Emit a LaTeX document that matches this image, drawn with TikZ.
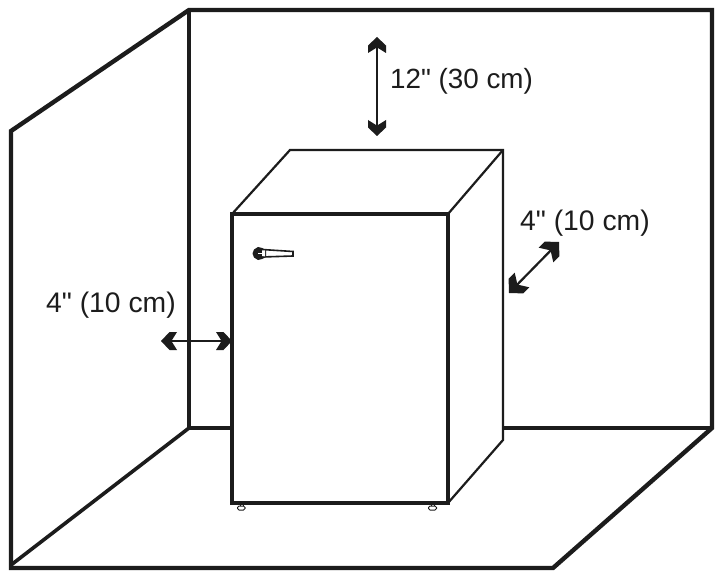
\documentclass[tikz,border=0pt]{standalone}
\usepackage{fontspec}
\newfontfamily\dimfont{Liberation Sans}
\definecolor{ink}{HTML}{1C1C1C}
\tikzset{
  wall/.style={draw=ink,line width=4.4pt,line join=miter},
  body/.style={draw=ink,fill=white,line join=miter},
  gap/.style={draw=ink,line width=2.2pt,shorten >=4pt,shorten <=4pt},
  dim/.style={font=\dimfont\fontsize{28.3pt}{30pt}\selectfont,text=ink,inner sep=0pt},
  dimtop/.style={font=\dimfont\fontsize{27.8pt}{30pt}\selectfont,text=ink,inner sep=0pt},
  chev/.pic={\fill[ink] (0,0) -- (-8.5,-9) -- (-16,-9) -- (-11,-1) -- (-11,1) -- (-16,9) -- (-8.5,9) -- cycle;}
}
\begin{document}
\begin{tikzpicture}[x=1pt,y=-1pt]
\useasboundingbox (0,0) rectangle (721,575);
\fill[white] (0,0) rectangle (721,575);
% room
\draw[wall] (11,131) -- (189,10) -- (712,10) -- (712,428) -- (553,568) -- (11,568) -- cycle;
\draw[wall,line width=3.6pt] (189,10) -- (189,428) -- (11,565);
\draw[wall,line width=3.8pt] (189,428) -- (712,428);
% fridge
\draw[body,line width=2.2pt] (232,214) -- (290,150) -- (503,150) -- (503,440) -- (448,503) -- cycle;
\draw[body,line width=3.6pt] (232,214) rectangle (448,503);
\draw[ink,line width=2.2pt] (448,214) -- (503,150);
% feet
\draw[ink,line width=1pt] (240,504) -- (240,506) (243,504) -- (243,506);
\draw[ink,line width=1pt] (431,504) -- (431,506) (434,504) -- (434,506);
\draw[ink,line width=1pt,fill=white,rounded corners=1.5pt] (237.5,506) rectangle (245,510);
\draw[ink,line width=1pt,fill=white,rounded corners=1.5pt] (428.5,506) rectangle (436.5,510);
% handle
\draw[ink,line width=1.6pt,fill=white] (262,249.5) -- (293,251.5) -- (293,256) -- (262,257) -- cycle;
\fill[ink] (254,249.5) -- (258,247) -- (262,248) -- (266,250) -- (266,257) -- (262,259) -- (258,260) -- (254,257.5) -- (252.5,253.5) -- cycle;
\fill[white] (262,250.5) -- (265,250.5) -- (265,256.5) -- (262,256) -- cycle;
\draw[white,line width=.9pt] (258,253.5) -- (263,253.5);
% arrows
\coordinate (topA) at (377,37);
\coordinate (topB) at (377,136);
\coordinate (leftA) at (161,341);
\coordinate (leftB) at (232,341);
\coordinate (rightA) at (559,242);
\coordinate (rightB) at (509,293);
\draw[gap] (topA) -- (topB);
\draw[gap] (leftA) -- (leftB);
\draw[gap] (rightA) -- (rightB);
\pic[rotate=90] at (topA) {chev};
\pic[rotate=-90] at (topB) {chev};
\pic[rotate=180] at (leftA) {chev};
\pic at (leftB) {chev};
\pic[rotate=45,scale=1.15] at (rightA) {chev};
\pic[rotate=225,scale=1.15] at (rightB) {chev};
% labels
\node[dimtop,anchor=base west] (topL) at (390,89) {12" (30 cm)};
\node[dim,anchor=base west] (rightL) at (520,230) {4" (10 cm)};
\node[dim,anchor=base west] (leftL) at (46,312.5) {4" (10 cm)};
\end{tikzpicture}
\end{document}
